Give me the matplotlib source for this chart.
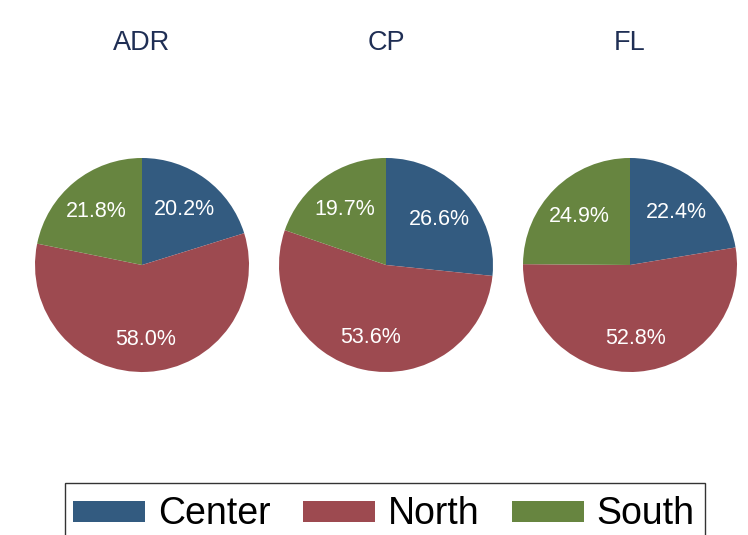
import matplotlib
matplotlib.use("Agg")
import matplotlib.pyplot as plt
from matplotlib.patches import Patch, Rectangle

plt.rcParams['font.family'] = ['Liberation Sans', 'DejaVu Sans']

titles = ["ADR", "CP", "FL"]
categories = ["Center", "North", "South"]
values = {
    "ADR": [20.2, 58.0, 21.8],
    "CP": [26.6, 53.6, 19.7],
    "FL": [22.4, 52.8, 24.9],
}
colors = ["#335B80", "#9D4A50", "#678540"]
title_color = "#1F2E54"

W, H = 748, 535
fig = plt.figure(figsize=(W / 100, H / 100), dpi=100)

centers_x = [142, 386, 630]
cy = 265
r = 107

for t, cx in zip(titles, centers_x):
    ax = fig.add_axes([(cx - r) / W, (H - cy - r) / H, 2 * r / W, 2 * r / H])
    wedges, texts, autotexts = ax.pie(
        values[t], colors=colors, startangle=90, counterclock=False,
        autopct="%.1f%%", pctdistance=0.67, radius=1.0,
        wedgeprops=dict(linewidth=0),
        textprops=dict(color="white", fontsize=15.5))
    for at, v in zip(autotexts, values[t]):
        at.set_text(f"{v:.1f}%")
        at.set_va('center_baseline')
    ax.set_xlim(-1, 1)
    ax.set_ylim(-1, 1)
    ax.set_aspect('auto')
    ax.axis('off')
    fig.text(cx / W, (H - 50) / H, t, ha='center', va='baseline',
             fontsize=19.5, color=title_color)

# legend frame (extends beyond the bottom edge as in the reference)
fig.patches.append(Rectangle((65 / W, -0.05), (705 - 65) / W, (H - 483) / H + 0.05,
                             transform=fig.transFigure, facecolor='none',
                             edgecolor='#333333', linewidth=1.0))

handles = [Patch(facecolor=c, edgecolor='none') for c in colors]
leg = fig.legend(handles, categories, loc='upper left',
                 bbox_to_anchor=(73 / W, (H - 496.5) / H), ncol=3,
                 fontsize=27, frameon=False,
                 handlelength=1.92, handleheight=0.5,
                 handletextpad=0.34, columnspacing=0.87, borderpad=0,
                 borderaxespad=0)

fig.savefig("out.png", dpi=100, facecolor='white')
